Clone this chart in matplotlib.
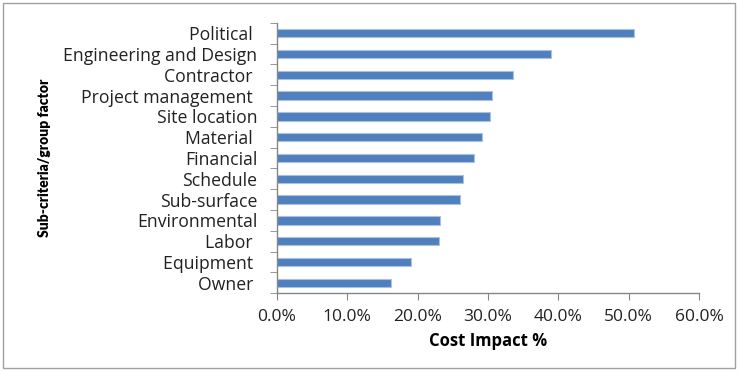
import matplotlib.pyplot as plt
from matplotlib.patches import Rectangle
from matplotlib.ticker import FixedLocator, PercentFormatter

factors = ["Owner ", "Equipment ", "Labor ", "Environmental", "Sub-surface",
           "Schedule", "Financial", "Material ", "Site location",
           "Project management ", "Contractor ", "Engineering and Design",
           "Political "]
impact = [16.2, 19.1, 23.1, 23.2, 26.0, 26.4, 28.0, 29.1, 30.3, 30.6,
          33.6, 38.9, 50.8]
x_ticks = [0, 10, 20, 30, 40, 50, 60]

plt.rcParams["font.family"] = ["Open Sans", "DejaVu Sans"]

fig = plt.figure(figsize=(7.39, 3.71), dpi=100)
ax = fig.add_axes([277 / 739, 1 - 293.3 / 371, 422 / 739, 270.6 / 371])

pos = list(range(len(factors)))
ax.barh(pos, impact, height=0.4, color="#4F7FBC", edgecolor="#A9C1E2",
        linewidth=0.8)

ax.set_xlim(0, 60)
ax.set_ylim(-0.5, len(factors) - 0.5)
ax.set_xticks(x_ticks)
ax.xaxis.set_major_formatter(PercentFormatter(decimals=1))
ax.set_yticks(pos)
ax.set_yticklabels(factors)
ax.yaxis.set_minor_locator(FixedLocator([p - 0.5 for p in range(len(factors) + 1)]))

grey = "#868686"
for side in ("top", "right"):
    ax.spines[side].set_visible(False)
for side in ("left", "bottom"):
    ax.spines[side].set_color(grey)
    ax.spines[side].set_linewidth(1.0)

ax.tick_params(axis="y", which="major", length=0, pad=14, labelsize=12.7,
               labelcolor="#222222")
ax.tick_params(axis="y", which="minor", length=5, color=grey, direction="out")
ax.tick_params(axis="x", length=5, color=grey, direction="out", pad=6,
               labelsize=12.5, labelcolor="#222222")

ax.set_xlabel("Cost Impact %", fontsize=12, fontweight="bold", labelpad=5)
ax.set_ylabel("Sub-criteria/group factor", fontsize=10, fontweight="heavy",
              family=["Lato", "DejaVu Sans"])
ax.yaxis.set_label_coords(-(277 - 51) / 422, 0.5)

fig.patches.append(Rectangle((3 / 739, 3 / 371), 732 / 739, 365 / 371,
                             transform=fig.transFigure, fill=False,
                             edgecolor="#A0A0A0", linewidth=1.0))

fig.savefig("out.png", dpi=100)
